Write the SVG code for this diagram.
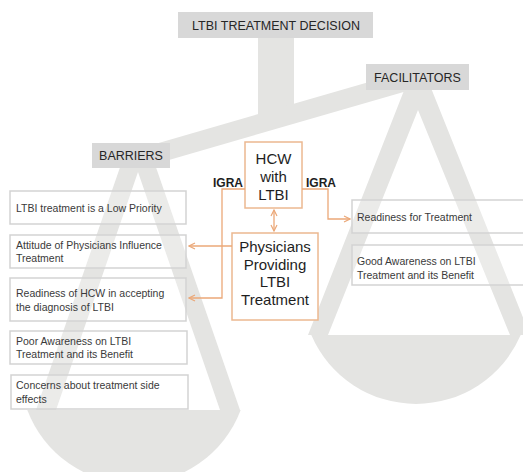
<svg xmlns="http://www.w3.org/2000/svg" width="523" height="472" viewBox="0 0 523 472">
<defs>
<style>
.sh{fill:#e4e4e2}
.lbl{fill:#d8d8d8}
.lt{font-family:"Liberation Sans",Arial,sans-serif;font-size:12.5px;fill:#262626;text-anchor:middle}
.bx{fill:#ffffff;fill-opacity:0.25;stroke:#d3d3d3;stroke-width:1.5}
.bt{font-family:"Liberation Sans",Arial,sans-serif;font-size:10.5px;fill:#3a3a3a}
.ob{fill:#ffffff;stroke:#ecb890;stroke-width:1.5}
.ot{font-family:"Liberation Sans",Arial,sans-serif;font-size:15px;fill:#1e1e1e;text-anchor:middle}
.ig{font-family:"Liberation Sans",Arial,sans-serif;font-size:12px;font-weight:bold;fill:#1e1e1e;text-anchor:middle}
.cn{fill:none;stroke:#eba878;stroke-width:1.3}
</style>
<marker id="ah" viewBox="0 0 8 8" refX="7" refY="4" markerWidth="8" markerHeight="8" markerUnits="userSpaceOnUse" orient="auto-start-reverse">
<path d="M1,1 L7,4 L1,7" fill="none" stroke="#eba878" stroke-width="1.2"/>
</marker>
</defs>

<g id="scale">
<rect class="sh" x="258" y="37" width="36" height="80"/>
<polygon class="sh" points="150,145.5 420,67.2 420,87.2 150,165.5"/>
<path class="sh" fill-rule="evenodd" d="M126,150 L150,150 L240,410 L36,410 Z M138,172 L220,410 L56,410 Z"/>
<path class="sh" d="M27.3,410 A114,114 0 0 0 240.7,410 Z"/>
<path class="sh" fill-rule="evenodd" d="M405,88 L431,88 L530,335 L308,335 Z M418,110 L510,335 L328,335 Z"/>
<path class="sh" d="M311.3,335 A114,114 0 0 0 520.7,335 Z"/>
</g>

<g id="title">
<rect class="lbl" x="178" y="12" width="195" height="26"/>
<text class="lt" x="276" y="30" font-size="13.5">LTBI TREATMENT DECISION</text>
</g>
<g id="facilitators">
<rect class="lbl" x="366" y="64" width="103" height="26"/>
<text class="lt" x="417.5" y="81.5">FACILITATORS</text>
</g>
<g id="barriers">
<rect class="lbl" x="92" y="143" width="78" height="25"/>
<text class="lt" x="131" y="160">BARRIERS</text>
</g>

<g id="b1">
<rect class="bx" x="10" y="191" width="176" height="33"/>
<text class="bt" x="16" y="211.5">LTBI treatment is a Low Priority</text>
</g>
<g id="b2">
<rect class="bx" x="10" y="235" width="176" height="33"/>
<text class="bt" x="16" y="248.5">Attitude of Physicians Influence</text>
<text class="bt" x="16" y="261.5">Treatment</text>
</g>
<g id="b3">
<rect class="bx" x="10" y="278" width="176" height="43"/>
<text class="bt" x="16" y="297">Readiness of HCW in accepting</text>
<text class="bt" x="16" y="311">the diagnosis of LTBI</text>
</g>
<g id="b4">
<rect class="bx" x="10" y="331" width="177" height="33"/>
<text class="bt" x="16" y="344.5">Poor Awareness on LTBI</text>
<text class="bt" x="16" y="358">Treatment and its Benefit</text>
</g>
<g id="b5">
<rect class="bx" x="11" y="375" width="177" height="34"/>
<text class="bt" x="16" y="389">Concerns about treatment side</text>
<text class="bt" x="16" y="403">effects</text>
</g>

<g id="f1">
<rect class="bx" x="352" y="200" width="176" height="33"/>
<text class="bt" x="357" y="221">Readiness for Treatment</text>
</g>
<g id="f2">
<rect class="bx" x="352" y="245" width="176" height="40"/>
<text class="bt" x="357" y="265">Good Awareness on LTBI</text>
<text class="bt" x="357" y="279">Treatment and its Benefit</text>
</g>

<g id="hcw">
<rect class="ob" x="245" y="142" width="57" height="66"/>
<text class="ot" x="273.5" y="163.5">HCW</text>
<text class="ot" x="273.5" y="181.5">with</text>
<text class="ot" x="273.5" y="199.5">LTBI</text>
</g>
<g id="physicians">
<rect class="ob" x="232" y="233" width="86" height="87"/>
<text class="ot" x="275" y="252">Physicians</text>
<text class="ot" x="275" y="269.5">Providing</text>
<text class="ot" x="275" y="287">LTBI</text>
<text class="ot" x="275" y="305">Treatment</text>
</g>

<g id="connectors">
<path class="cn" d="M245,189 H222 V298 H189" marker-end="url(#ah)"/>
<path class="cn" d="M232,246 H189" marker-end="url(#ah)"/>
<path class="cn" d="M302,189 H328 V219 H350" marker-end="url(#ah)"/>
<path class="cn" d="M274,210 V231" marker-start="url(#ah)" marker-end="url(#ah)"/>
<text class="ig" x="228" y="186.5">IGRA</text>
<text class="ig" x="321" y="186.5">IGRA</text>
</g>
</svg>
